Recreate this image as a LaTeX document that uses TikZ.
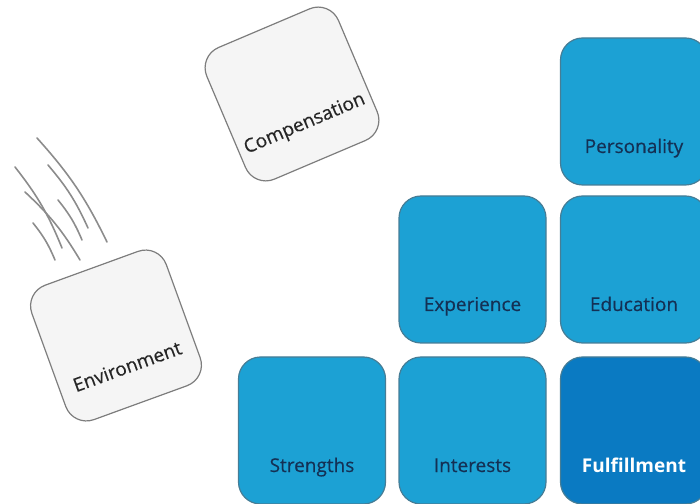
\documentclass[tikz,border=0pt]{standalone}
\usepackage{fontspec}
\setmainfont{Open Sans}
\newfontfamily\tilefont[FakeBold=0.35]{Open Sans}
\definecolor{tileblue}{RGB}{28,161,212}
\definecolor{tiledark}{RGB}{10,122,194}
\definecolor{tileedge}{RGB}{70,125,150}
\definecolor{labelnavy}{RGB}{20,48,84}
\definecolor{paperfill}{RGB}{245,245,245}
\definecolor{paperedge}{RGB}{125,125,125}
\definecolor{speedline}{RGB}{140,140,140}
\tikzset{
  tilebase/.style={rectangle, rounded corners=22pt, minimum width=147pt,
    minimum height=147pt, outer sep=0pt, line width=1.2pt},
  bluetile/.style={tilebase, fill=tileblue, draw=tileedge},
  darktile/.style={tilebase, fill=tiledark, draw=tileedge},
  greytile/.style={tilebase, fill=paperfill, draw=paperedge, minimum width=143pt, minimum height=143pt},
  tilelabel/.style={font=\tilefont\fontsize{19}{21}\selectfont, text=labelnavy, inner sep=0pt, anchor=base},
  boldlabel/.style={font=\fontsize{19}{21}\selectfont\bfseries, text=white, inner sep=0pt, anchor=base},
  greylabel/.style={font=\tilefont\fontsize{19}{21}\selectfont, text=black!85, inner sep=0pt},
  motion/.style={draw=speedline, line width=1.6pt, line cap=round},
}
\begin{document}
\begin{tikzpicture}[x=1pt,y=1pt]
\useasboundingbox (0,0) rectangle (700,503);

% blue staircase of tiles
\node[bluetile] (strengths)   at (312,72.5) {};
\node[bluetile] (interests)   at (472.5,72.5) {};
\node[darktile] (fulfillment) at (634,72.5) {};
\node[bluetile] (experience)  at (472.5,233.5) {};
\node[bluetile] (education)   at (634,233.5) {};
\node[bluetile] (personality) at (634,391.5) {};

\node[tilelabel] at ([yshift=32pt]strengths.south)   {Strengths};
\node[tilelabel] at ([yshift=32pt]interests.south)   {Interests};
\node[boldlabel] at ([yshift=32pt]fulfillment.south) {Fulfillment};
\node[tilelabel] at ([yshift=32pt]experience.south)  {Experience};
\node[tilelabel] at ([yshift=32pt]education.south)   {Education};
\node[tilelabel] at ([yshift=32pt]personality.south) {Personality};

% tumbling grey tiles
\node[greytile, rotate=23] (compensation) at (292,409) {};
\path (compensation.center) -- coordinate[pos=0.46] (complabel) (compensation.south);
\node[greylabel, rotate=23] at (complabel) {Compensation};

\node[greytile, rotate=20] (environment) at (116,167.5) {};
\path (environment.center) -- coordinate[pos=0.46] (envlabel) (environment.south);
\node[greylabel, rotate=20] at (envlabel) {Environment};

% speed lines above the falling tile
\coordinate (s1a) at (37,365); \coordinate (s1b) at (107,261);
\coordinate (s2a) at (15,336); \coordinate (s2b) at (62,255);
\coordinate (s3a) at (48,338); \coordinate (s3b) at (88,275);
\coordinate (s4a) at (25,311); \coordinate (s4b) at (80,243);
\coordinate (s5a) at (58,303); \coordinate (s5b) at (82,263);
\coordinate (s6a) at (33,280); \coordinate (s6b) at (55,243);
\draw[motion] (s1a) to[bend left=8] (s1b);
\draw[motion] (s2a) to[bend left=8] (s2b);
\draw[motion] (s3a) to[bend left=8] (s3b);
\draw[motion] (s4a) to[bend left=8] (s4b);
\draw[motion] (s5a) to[bend left=8] (s5b);
\draw[motion] (s6a) to[bend left=8] (s6b);
\end{tikzpicture}
\end{document}
